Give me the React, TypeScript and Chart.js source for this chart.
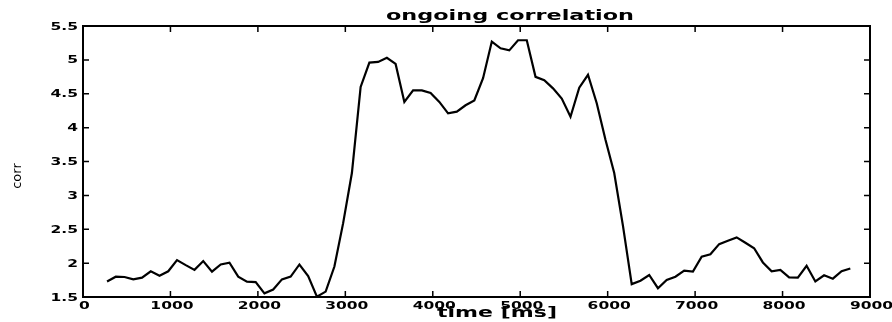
import React, { useEffect, useRef } from "react";
import { Chart, registerables } from "chart.js";

Chart.register(...registerables);

const titleText = "ongoing correlation";
const xTitle = "time [ms]";
const yTitle = "corr";

const times = [
  275, 375, 475, 575, 675, 775, 875, 975, 1075, 1175,
  1275, 1375, 1475, 1575, 1675, 1775, 1875, 1975, 2075, 2175,
  2275, 2375, 2475, 2575, 2675, 2775, 2875, 2975, 3075, 3175,
  3275, 3375, 3475, 3575, 3675, 3775, 3875, 3975, 4075, 4175,
  4275, 4375, 4475, 4575, 4675, 4775, 4875, 4975, 5075, 5175,
  5275, 5375, 5475, 5575, 5675, 5775, 5875, 5975, 6075, 6175,
  6275, 6375, 6475, 6575, 6675, 6775, 6875, 6975, 7075, 7175,
  7275, 7375, 7475, 7575, 7675, 7775, 7875, 7975, 8075, 8175,
  8275, 8375, 8475, 8575, 8675, 8775,
];

const corr = [
  1.73, 1.8, 1.795, 1.76, 1.785, 1.88, 1.815, 1.88, 2.045, 1.97,
  1.9, 2.03, 1.875, 1.98, 2.005, 1.8, 1.726, 1.72, 1.554, 1.61,
  1.76, 1.8, 1.98, 1.81, 1.505, 1.58, 1.95, 2.59, 3.33, 4.6,
  4.96, 4.97, 5.03, 4.94, 4.38, 4.55, 4.55, 4.51, 4.38, 4.21,
  4.235, 4.33, 4.4, 4.73, 5.27, 5.17, 5.14, 5.29, 5.29, 4.75,
  4.7, 4.58, 4.43, 4.16, 4.59, 4.78, 4.36, 3.82, 3.33, 2.55,
  1.69, 1.74, 1.825, 1.63, 1.75, 1.8, 1.89, 1.875, 2.095, 2.13,
  2.28, 2.33, 2.38, 2.3, 2.22, 2.01, 1.88, 1.9, 1.79, 1.785,
  1.96, 1.73, 1.82, 1.77, 1.88, 1.92,
];

const xTickValues = [0, 1000, 2000, 3000, 4000, 5000, 6000, 7000, 8000, 9000];
const xTickLabels = ["0", "1000", "2000", "3000", "4000", "5000", "6000", "7000", "8000", "9000"];
const yTickValues = [1.5, 2, 2.5, 3, 3.5, 4, 4.5, 5, 5.5];
const yTickLabels = ["1.5", "2", "2.5", "3", "3.5", "4", "4.5", "5", "5.5"];

function stretchText(
  ctx: CanvasRenderingContext2D,
  text: string,
  x: number,
  y: number,
  sx: number,
  align: "center" | "right" | "left"
) {
  const w = ctx.measureText(text).width * sx;
  let left = x;
  if (align === "center") left = x - w / 2;
  else if (align === "right") left = x - w;
  ctx.save();
  ctx.translate(left, y);
  ctx.scale(sx, 1);
  ctx.textAlign = "left";
  ctx.fillText(text, 0, 0);
  ctx.restore();
}

const framePlugin = {
  id: "matlabFrame",
  afterDraw(chart: any) {
    const ctx: CanvasRenderingContext2D = chart.ctx;
    const xs = chart.scales.x;
    const ys = chart.scales.y;
    const { left, right, top, bottom } = chart.chartArea;
    ctx.save();
    ctx.strokeStyle = "#000";
    ctx.fillStyle = "#000";
    ctx.lineWidth = 2;
    ctx.strokeRect(left, top, right - left, bottom - top);

    const tl = 6;
    ctx.lineWidth = 1.5;
    ctx.beginPath();
    xTickValues.forEach((v) => {
      const px = xs.getPixelForValue(v);
      ctx.moveTo(px, bottom);
      ctx.lineTo(px, bottom - tl);
      ctx.moveTo(px, top);
      ctx.lineTo(px, top + tl);
    });
    yTickValues.forEach((v) => {
      const py = ys.getPixelForValue(v);
      ctx.moveTo(left, py);
      ctx.lineTo(left + tl, py);
      ctx.moveTo(right, py);
      ctx.lineTo(right - tl, py);
    });
    ctx.stroke();

    ctx.textBaseline = "alphabetic";
    ctx.font = "bold 10px 'DejaVu Sans'";
    xTickValues.forEach((v, i) => {
      const px = xs.getPixelForValue(v);
      stretchText(ctx, xTickLabels[i], px + 1.5, bottom + 11.5, 1.55, "center");
    });
    yTickValues.forEach((v, i) => {
      const py = ys.getPixelForValue(v);
      stretchText(ctx, yTickLabels[i], left - 5, py + 3.6, 1.55, "right");
    });

    // title
    ctx.font = "bold 14px 'DejaVu Sans'";
    const tw = ctx.measureText(titleText).width;
    stretchText(ctx, titleText, 510, 20, 248 / tw, "center");

    // x title
    ctx.font = "bold 14px 'DejaVu Sans'";
    const xw = ctx.measureText(xTitle).width;
    stretchText(ctx, xTitle, 497, 317, 120 / xw, "center");

    // y title
    ctx.font = "13px 'DejaVu Sans'";
    ctx.save();
    ctx.translate(18, 176);
    ctx.rotate(-Math.PI / 2);
    ctx.textAlign = "center";
    ctx.textBaseline = "middle";
    ctx.fillText(yTitle, 0, 0);
    ctx.restore();

    ctx.restore();
  },
};

export default function App() {
  const canvasRef = useRef<HTMLCanvasElement | null>(null);

  useEffect(() => {
    const canvas = canvasRef.current;
    if (!canvas) return;
    const chart = new Chart(canvas, {
      type: "line",
      data: {
        datasets: [
          {
            label: "corr",
            data: times.map((t, i) => ({ x: t, y: corr[i] })),
            borderColor: "#000",
            borderWidth: 2.2,
            pointRadius: 0,
            tension: 0,
            fill: false,
          },
        ],
      },
      options: {
        animation: false,
        responsive: false,
        maintainAspectRatio: false,
        devicePixelRatio: 1,
        layout: { padding: { left: 83, right: 22, top: 26, bottom: 25 } },
        plugins: {
          legend: { display: false },
          title: { display: false },
          tooltip: { enabled: false },
        },
        scales: {
          x: { type: "linear", min: 0, max: 9000, display: false },
          y: { type: "linear", min: 1.5, max: 5.5, display: false },
        },
      },
      plugins: [framePlugin],
    });
    return () => chart.destroy();
  }, []);

  return (
    <div style={{ position: "fixed", left: 0, top: 0, width: 892, height: 322, background: "#fff" }}>
      <canvas ref={canvasRef} width={892} height={322} style={{ display: "block" }} />
    </div>
  );
}
